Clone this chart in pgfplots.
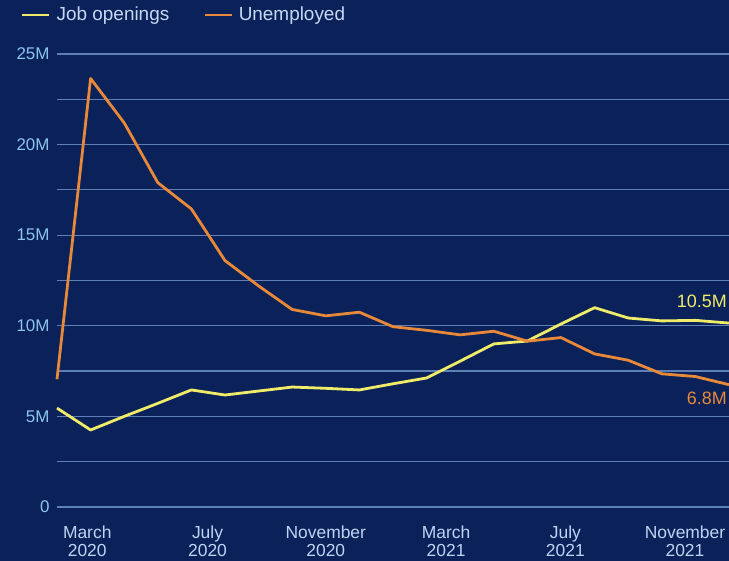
\documentclass[border=0pt]{standalone}
\usepackage{pgfplots}
\pgfplotsset{compat=1.18}
\usepackage{fontspec}
\setmainfont{Liberation Sans}
\definecolor{bg}{RGB}{10,33,89}
\definecolor{jobc}{RGB}{240,236,105}
\definecolor{unc}{RGB}{232,137,58}
\definecolor{gridc}{RGB}{95,128,182}
\definecolor{ylab}{RGB}{140,196,236}
\definecolor{xlab}{RGB}{190,212,242}
\definecolor{leg}{RGB}{200,216,242}
\begin{document}
\begin{tikzpicture}
\fill[bg] (-57bp,-54bp) rectangle (672bp,507bp);
\begin{axis}[
  scale only axis,
  width=672bp, height=453bp,
  xmin=0, xmax=20, ymin=0, ymax=25,
  axis line style={draw=none},
  tick style={draw=none},
  major tick length=0pt, minor tick length=0pt,
  ytick={0,5,10,15,20,25},
  yticklabels={0,5M,10M,15M,20M,25M},
  minor ytick={2.5,7.5,12.5,17.5,22.5},
  ymajorgrids, yminorgrids,
  major grid style={draw=gridc, line width=1.2bp},
  minor grid style={draw=gridc, line width=1.2bp},
  yticklabel style={font=\fontsize{17}{17}\selectfont, text=ylab, xshift=-4bp},
  xtick={0.9,4.48,8.0,11.58,15.13,18.69},
  xticklabels={March\\2020,July\\2020,November\\2020,March\\2021,July\\2021,November\\2021},
  xticklabel style={font=\fontsize{17.5}{18.5}\selectfont, text=xlab, align=center, yshift=-15bp},
  clip=false,
  legend columns=2,
  legend style={at={(rel axis cs:0,1)}, anchor=north west, xshift=-39bp, yshift=51bp,
    draw=none, fill=none, font=\fontsize{19}{19}\selectfont, text=leg,
    /tikz/every even column/.append style={column sep=32bp}},
  legend image code/.code={\draw[#1, line width=2.5bp] (0bp,0bp) -- (27bp,0bp);},
  legend cell align=left,
]
\addplot[jobc, line width=2.8bp, line join=round] coordinates {
(0,5.46) (1,4.25) (2,5.0) (3,5.72) (4,6.46) (5,6.18) (6,6.4) (7,6.62) (8,6.55) (9,6.46)
(10,6.8) (11,7.12) (12,8.05) (13,9.0) (14,9.16) (15,10.1) (16,11.0) (17,10.43) (18,10.27) (19,10.3) (20,10.15)};
\addlegendentry{\hspace{4bp}Job openings}
\addplot[unc, line width=2.8bp, line join=round] coordinates {
(0,7.05) (1,23.65) (2,21.2) (3,17.9) (4,16.45) (5,13.6) (6,12.2) (7,10.9) (8,10.55) (9,10.75)
(10,9.95) (11,9.75) (12,9.5) (13,9.7) (14,9.15) (15,9.35) (16,8.45) (17,8.1) (18,7.35) (19,7.2) (20,6.75)};
\addlegendentry{\hspace{4bp}Unemployed}
\node[anchor=east, text=jobc, font=\fontsize{18}{18}\selectfont, inner sep=0pt, xshift=-2bp] at (axis cs:20,11.37) {10.5M};
\node[anchor=east, text=unc, font=\fontsize{18}{18}\selectfont, inner sep=0pt, xshift=-2bp] at (axis cs:20,6.0) {6.8M};
\end{axis}
\pgfresetboundingbox
\path[use as bounding box] (-57bp,-54bp) rectangle (672bp,507bp);
\end{tikzpicture}
\end{document}
